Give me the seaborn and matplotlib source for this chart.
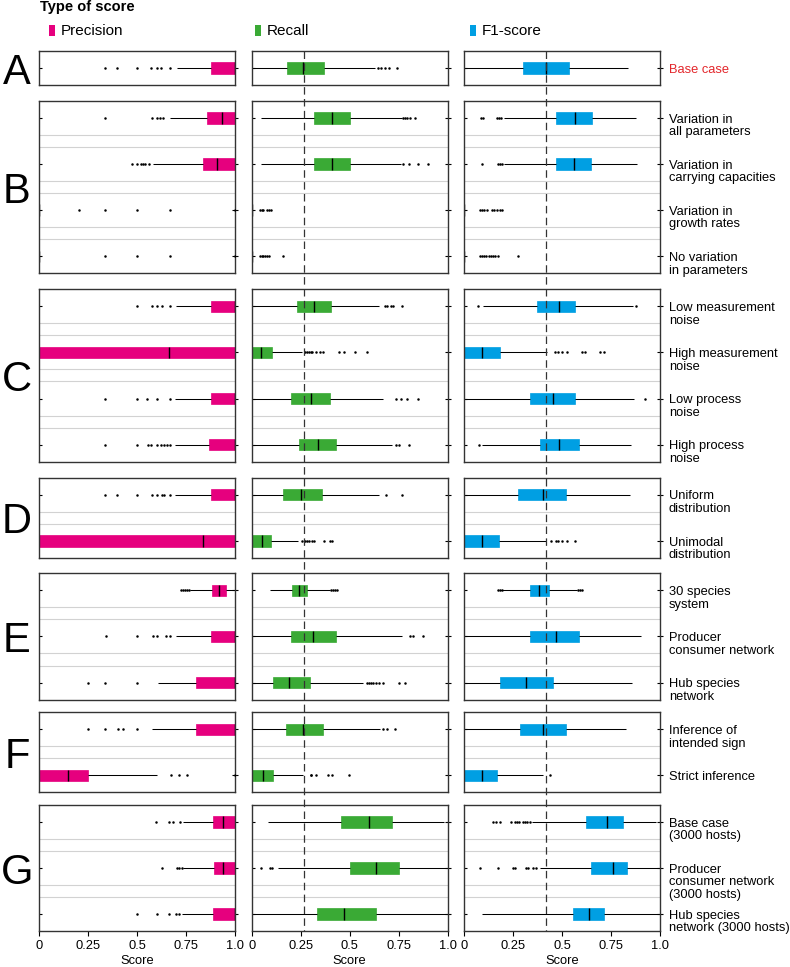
import numpy as np
import pandas as pd
import matplotlib
matplotlib.use("Agg")
import matplotlib.pyplot as plt
import matplotlib.transforms as mtransforms
from matplotlib.lines import Line2D
from matplotlib.patches import Rectangle
import seaborn as sns

# ---------------- data ----------------
group_letters = ["A", "B", "C", "D", "E", "F", "G"]
group_cases = [
    ["Base case"],
    ["Variation in\nall parameters", "Variation in\ncarrying capacities",
     "Variation in\ngrowth rates", "No variation\nin parameters"],
    ["Low measurement\nnoise", "High measurement\nnoise", "Low process\nnoise",
     "High process\nnoise"],
    ["Uniform\ndistribution", "Unimodal\ndistribution"],
    ["30 species\nsystem", "Producer\nconsumer network", "Hub species\nnetwork"],
    ["Inference of\nintended sign", "Strict inference"],
    ["Base case\n(3000 hosts)", "Producer\nconsumer network\n(3000 hosts)",
     "Hub species\nnetwork (3000 hosts)"],
]
score_types = ["Precision", "Recall", "F1-score"]
score_colors = ["#E6007E", "#3AAA35", "#009FE3"]
reference_values = [None, 0.265, 0.415]
x_ticks = [0, 0.25, 0.5, 0.75, 1.0]
x_tick_labels = ["0", "0.25", "0.5", "0.75", "1.0"]

# five-number summaries (whisker low, Q1, median, Q3, whisker high), one per case
precision_stats = [
    (0.700, 0.874, 1.000, 1.000, 1.000),
    (0.667, 0.857, 0.930, 1.000, 1.000),
    (0.582, 0.833, 0.908, 1.000, 1.000),
    (0.000, 0.000, 0.000, 0.000, 0.000),
    (0.000, 0.000, 0.000, 0.000, 0.000),
    (0.697, 0.874, 1.000, 1.000, 1.000),
    (0.000, 0.000, 0.663, 1.000, 1.000),
    (0.692, 0.874, 1.000, 1.000, 1.000),
    (0.692, 0.867, 1.000, 1.000, 1.000),
    (0.692, 0.874, 1.000, 1.000, 1.000),
    (0.000, 0.000, 0.833, 1.000, 1.000),
    (0.769, 0.880, 0.918, 0.953, 1.000),
    (0.697, 0.876, 1.000, 1.000, 1.000),
    (0.604, 0.800, 1.000, 1.000, 1.000),
    (0.573, 0.800, 1.000, 1.000, 1.000),
    (0.000, 0.000, 0.145, 0.250, 0.599),
    (0.732, 0.888, 0.936, 1.000, 1.000),
    (0.735, 0.893, 0.936, 1.000, 1.000),
    (0.727, 0.888, 1.000, 1.000, 1.000),
]
precision_outliers = [
    [0.335, 0.398, 0.498, 0.57, 0.60, 0.62, 0.667],
    [0.335, 0.573, 0.599, 0.616, 0.633],
    [0.471, 0.497, 0.52, 0.53, 0.54, 0.561],
    [0.2, 0.335, 0.5, 0.667, 1.0],
    [0.335, 0.5, 0.667, 1.0],
    [0.5, 0.573, 0.599, 0.625, 0.667],
    [],
    [0.335, 0.5, 0.548, 0.599, 0.667],
    [0.335, 0.5, 0.556, 0.568, 0.60, 0.62, 0.635, 0.65, 0.667],
    [0.335, 0.398, 0.5, 0.573, 0.599, 0.625, 0.636, 0.667],
    [],
    [0.725, 0.735, 0.745, 0.755, 0.765],
    [0.339, 0.5, 0.582, 0.602, 0.645, 0.667],
    [0.25, 0.337, 0.5],
    [0.25, 0.335, 0.403, 0.428, 0.5],
    [0.67, 0.714, 0.752, 1.0],
    [0.595, 0.663, 0.684, 0.718],
    [0.625, 0.70, 0.713, 0.727],
    [0.5, 0.599, 0.663, 0.697, 0.714],
]
recall_stats = [
    (0.000, 0.182, 0.263, 0.369, 0.629),
    (0.047, 0.318, 0.410, 0.502, 0.765),
    (0.047, 0.318, 0.410, 0.502, 0.762),
    (0.000, 0.000, 0.000, 0.000, 0.000),
    (0.000, 0.000, 0.000, 0.000, 0.000),
    (0.000, 0.230, 0.320, 0.403, 0.651),
    (0.000, 0.000, 0.047, 0.102, 0.255),
    (0.000, 0.200, 0.301, 0.401, 0.668),
    (0.000, 0.240, 0.337, 0.430, 0.714),
    (0.000, 0.158, 0.252, 0.357, 0.650),
    (0.000, 0.000, 0.051, 0.097, 0.238),
    (0.093, 0.207, 0.243, 0.280, 0.400),
    (0.000, 0.199, 0.311, 0.429, 0.768),
    (0.000, 0.107, 0.189, 0.297, 0.569),
    (0.000, 0.175, 0.260, 0.365, 0.655),
    (0.000, 0.000, 0.059, 0.110, 0.263),
    (0.085, 0.454, 0.600, 0.714, 0.980),
    (0.136, 0.502, 0.634, 0.750, 1.000),
    (0.000, 0.332, 0.472, 0.633, 1.000),
]
recall_outliers = [
    [0.645, 0.66, 0.68, 0.70, 0.74],
    [0.774, 0.78, 0.79, 0.81, 0.833],
    [0.774, 0.80, 0.85, 0.90],
    [0.04, 0.05, 0.06, 0.08, 0.09, 0.10],
    [0.04, 0.05, 0.06, 0.07, 0.08, 0.09, 0.158],
    [0.68, 0.69, 0.71, 0.72, 0.765],
    [0.27, 0.28, 0.29, 0.30, 0.31, 0.33, 0.35, 0.365, 0.447, 0.47, 0.527, 0.59],
    [0.736, 0.76, 0.79, 0.85],
    [0.736, 0.75, 0.80],
    [0.685, 0.765],
    [0.255, 0.27, 0.28, 0.29, 0.31, 0.32, 0.369, 0.40, 0.41],
    [0.405, 0.415, 0.425, 0.435],
    [0.808, 0.825, 0.872],
    [0.59, 0.60, 0.61, 0.62, 0.635, 0.65, 0.67, 0.753, 0.782],
    [0.672, 0.689, 0.731],
    [0.30, 0.305, 0.33, 0.39, 0.408, 0.498],
    [],
    [0.047, 0.093, 0.102],
    [],
]
f1_stats = [
    (0.000, 0.297, 0.416, 0.536, 0.836),
    (0.200, 0.468, 0.563, 0.650, 0.877),
    (0.200, 0.468, 0.561, 0.648, 0.882),
    (0.000, 0.000, 0.000, 0.000, 0.000),
    (0.000, 0.000, 0.000, 0.000, 0.000),
    (0.095, 0.372, 0.481, 0.565, 0.860),
    (0.000, 0.000, 0.092, 0.183, 0.420),
    (0.000, 0.336, 0.452, 0.563, 0.865),
    (0.090, 0.387, 0.485, 0.587, 0.852),
    (0.000, 0.275, 0.403, 0.517, 0.843),
    (0.000, 0.000, 0.092, 0.176, 0.416),
    (0.183, 0.335, 0.382, 0.430, 0.575),
    (0.000, 0.335, 0.468, 0.584, 0.899),
    (0.000, 0.183, 0.317, 0.454, 0.855),
    (0.000, 0.285, 0.401, 0.517, 0.826),
    (0.000, 0.000, 0.089, 0.167, 0.401),
    (0.345, 0.619, 0.729, 0.811, 0.976),
    (0.387, 0.648, 0.757, 0.831, 1.000),
    (0.089, 0.553, 0.638, 0.715, 1.000),
]
f1_outliers = [
    [],
    [0.085, 0.095, 0.166, 0.175, 0.185],
    [0.09, 0.17, 0.18, 0.19],
    [0.08, 0.09, 0.10, 0.115, 0.14, 0.15, 0.165, 0.18, 0.19],
    [0.08, 0.09, 0.10, 0.11, 0.125, 0.135, 0.145, 0.155, 0.17, 0.273],
    [0.072, 0.875],
    [0.464, 0.48, 0.50, 0.524, 0.60, 0.618, 0.694, 0.715],
    [0.921],
    [0.075],
    [],
    [0.444, 0.467, 0.48, 0.50, 0.525, 0.563],
    [0.17, 0.18, 0.19, 0.58, 0.59, 0.60],
    [],
    [],
    [],
    [0.435],
    [0.145, 0.16, 0.18, 0.24, 0.26, 0.27, 0.28, 0.30, 0.31, 0.32, 0.335],
    [0.08, 0.171, 0.25, 0.26, 0.315, 0.327, 0.35, 0.365],
    [],
]

# ---------------- tidy frames ----------------
cases_flat = [c for cs in group_cases for c in cs]
group_of_case = [g for g, cs in zip(group_letters, group_cases) for _ in cs]
all_stats = [precision_stats, recall_stats, f1_stats]
all_outliers = [precision_outliers, recall_outliers, f1_outliers]

box_rows, out_rows = [], []
for stype, stats, outs in zip(score_types, all_stats, all_outliers):
    for grp, case, st, ol in zip(group_of_case, cases_flat, stats, outs):
        for v in st:
            box_rows.append((grp, case, stype, v))
        for v in ol:
            out_rows.append((grp, case, stype, v))
box_df = pd.DataFrame(box_rows, columns=["group", "case", "score", "value"])
out_df = pd.DataFrame(out_rows, columns=["group", "case", "score", "value"])

# ---------------- style ----------------
sns.set_theme(style="white")
plt.rcParams["font.family"] = ["Liberation Sans", "DejaVu Sans"]

W, H = 790, 967
fig = plt.figure(figsize=(W / 100, H / 100), dpi=100)

col_left_px = [39.3, 251.7, 464.3]
col_width_px = 196.0
panel_top_px = [51, 101, 289.3, 477.7, 573.3, 712.3, 805]
row_unit_px = 46.1
pad = 0.369
grid_color = "#d2d2d2"
spine_color = "#333333"
label_line_step_px = 12.5

axes_grid = []
for gi, (letter, cases) in enumerate(zip(group_letters, group_cases)):
    n = len(cases)
    h_px = (n - 1 + 2 * pad) * row_unit_px
    top = panel_top_px[gi]
    last = gi == len(group_letters) - 1
    row_axes = []
    for ci, (stype, col) in enumerate(zip(score_types, score_colors)):
        ax = fig.add_axes([col_left_px[ci] / W, 1 - (top + h_px) / H,
                           col_width_px / W, h_px / H])
        sub = box_df[(box_df.group == letter) & (box_df.score == stype)]
        sns.boxplot(data=sub, x="value", y="case", order=cases, orient="h",
                    whis=(0, 100), width=0.25, color=col, showcaps=False,
                    showfliers=False, linewidth=0.75, ax=ax,
                    boxprops=dict(facecolor=col, edgecolor=col, linewidth=0.5),
                    whiskerprops=dict(color="black", linewidth=0.75),
                    medianprops=dict(color="black", linewidth=1.0))
        osub = out_df[(out_df.group == letter) & (out_df.score == stype)]
        if len(osub):
            sns.stripplot(data=osub, x="value", y="case", order=cases,
                          orient="h", jitter=False, size=1.8, color="black",
                          linewidth=0, ax=ax)
        ax.set_xlim(0, 1)
        ax.set_ylim(n - 1 + pad, -pad)
        for i in range(n - 1):
            ax.axhline(i + pad, color=grid_color, lw=0.8, zorder=0.5)
            ax.axhline(i + 1 - pad, color=grid_color, lw=0.8, zorder=0.5)
        ax.set_ylabel("")
        ax.set_xlabel("")
        ax.yaxis.remove_overlapping_locs = False
        ax.set_yticks(range(n))
        ax.set_yticklabels([])
        ax.set_yticks(range(n), minor=True)
        ax.tick_params(axis="y", which="major", left=False, right=True,
                       direction="inout", length=5, width=0.8, color="black",
                       labelleft=False, labelright=False)
        ax.tick_params(axis="y", which="minor", left=True, right=False,
                       direction="in", length=2, width=0.8, color="black")
        if last:
            ax.set_xticks(x_ticks)
            ax.set_xticklabels(x_tick_labels)
            ax.tick_params(axis="x", bottom=True, direction="out", length=3.5,
                           width=0.8, color="black", labelsize=9.3, pad=3,
                           labelcolor="black")
            ax.set_xlabel("Score", fontsize=9.3, labelpad=2, color="black")
        else:
            ax.set_xticks([])
        for s in ax.spines.values():
            s.set_visible(True)
            s.set_linewidth(1.0)
            s.set_color(spine_color)
        # right-hand case labels (first line aligned with the row)
        if ci == 2:
            base = mtransforms.blended_transform_factory(ax.transAxes, ax.transData)
            for i, case in enumerate(cases):
                k = case.count("\n")
                trans = base + mtransforms.ScaledTranslation(
                    6.2 / 72, -k * label_line_step_px / 2 / 100, fig.dpi_scale_trans)
                ax.text(1.0, i, case, transform=trans, ha="left",
                        va="center_baseline", fontsize=9.3, linespacing=1.05,
                        clip_on=False,
                        color="#e3262b" if letter == "A" else "black")
        row_axes.append(ax)
    # group letter
    fig.text(17 / W, 1 - (top + h_px / 2) / H, letter, fontsize=30,
             ha="center", va="center_baseline", color="black")
    axes_grid.append(row_axes)

# dashed reference lines spanning all panels of a column
y_top = 1 - panel_top_px[0] / H
g_n = len(group_cases[-1])
y_bot = 1 - (panel_top_px[-1] + (g_n - 1 + 2 * pad) * row_unit_px) / H
for ci, ref in enumerate(reference_values):
    if ref is None:
        continue
    trans = mtransforms.blended_transform_factory(axes_grid[0][ci].transData,
                                                  fig.transFigure)
    fig.add_artist(Line2D([ref, ref], [y_top, y_bot], transform=trans,
                          color="#333333", lw=0.9, dashes=(6, 3.5), zorder=5))

# legend
fig.text(40 / W, 1 - 11 / H, "Type of score", fontsize=10.5, fontweight="bold",
         ha="left", va="baseline", color="black")
legend_rect_px = [49.3, 255.0, 470.0]
for ci, (stype, col) in enumerate(zip(score_types, score_colors)):
    x = legend_rect_px[ci]
    fig.add_artist(Rectangle((x / W, 1 - 36 / H), 5.7 / W, 11 / H,
                             transform=fig.transFigure, facecolor=col,
                             edgecolor="none"))
    fig.text((x + 11.5) / W, 1 - 35 / H, stype, fontsize=11, ha="left",
             va="baseline", color="black")

fig.savefig("out.png", dpi=100)
